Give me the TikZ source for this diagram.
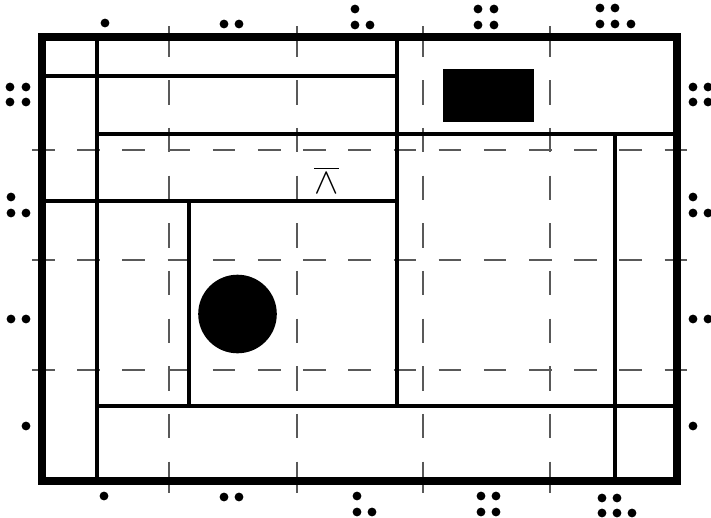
\documentclass[tikz,border=0pt]{standalone}
\usepackage{amsmath,amssymb}
\usepackage{tikz}

\begin{document}
\begin{tikzpicture}[x=0.02cm,y=-0.02cm,
	wall/.style={line width=1.9pt},
	frame/.style={line width=4pt},
	gridline/.style={line width=0.6pt, black!65},
	vgrid/.style={gridline, dash pattern=on 17.64pt off 13.2pt on 13.94pt off 13.2pt on 13.94pt off 13.2pt on 13.94pt off 13.2pt on 13.94pt off 13.2pt on 13.94pt off 13.2pt on 13.94pt off 13.2pt on 13.94pt off 13.2pt on 13.94pt off 13.2pt on 17.64pt off 40pt},
	hgrid/.style={gridline, dash pattern=on 12.86pt off 12.86pt}]
	\useasboundingbox (0,0) rectangle (711,518);
	% grid
	\foreach \x in {169,297,423,550} \draw[vgrid] (\x,26) -- (\x,493);
	\foreach \y in {150,260,370} \draw[hgrid] (32,\y) -- (688,\y);
	% walls
	\draw[wall] (97,37) -- (97,481);
	\draw[wall] (42,76) -- (397,76);
	\draw[wall] (397,37) -- (397,406);
	\draw[wall] (97,134) -- (677,134);
	\draw[wall] (42,201) -- (397,201);
	\draw[wall] (189,201) -- (189,406);
	\draw[wall] (97,406) -- (677,406);
	\draw[wall] (615,134) -- (615,481);
	\draw[frame] (42,37) rectangle (677,481);
	% solids
	\fill (443,69) rectangle (534,122);
	\fill (237.5,314) circle (39.3);
	\node[font=\fontsize{20}{22}\selectfont, inner sep=0pt] (sym) at (326.5,180) {$\overline{\wedge}$};
	% pips, top
	\foreach \x/\y in {105/23, 224/24, 239/24, 355/9, 355/25, 370/25, 478/9, 494/9, 478/25, 494/25, 600/8, 615/8, 600/24, 615/24, 631/24}
		\fill (\x,\y) circle (4.4);
	% pips, left and right
	\foreach \x/\y in {10/87, 26/87, 10/102, 26/102, 11/197, 11/213, 26/213, 11/319, 26/319, 26/426,
		693/87, 708/87, 693/102, 708/102, 693/197, 693/213, 708/213, 693/319, 708/319, 693/426}
		\fill (\x,\y) circle (4.4);
	% pips, bottom
	\foreach \x/\y in {104/496, 224/497, 239/497, 357/496, 357/512, 372/512, 481/496, 496/496, 481/512, 496/512, 602/498, 617/498, 602/513, 617/513, 632/513}
		\fill (\x,\y) circle (4.4);
\end{tikzpicture}
\end{document}
